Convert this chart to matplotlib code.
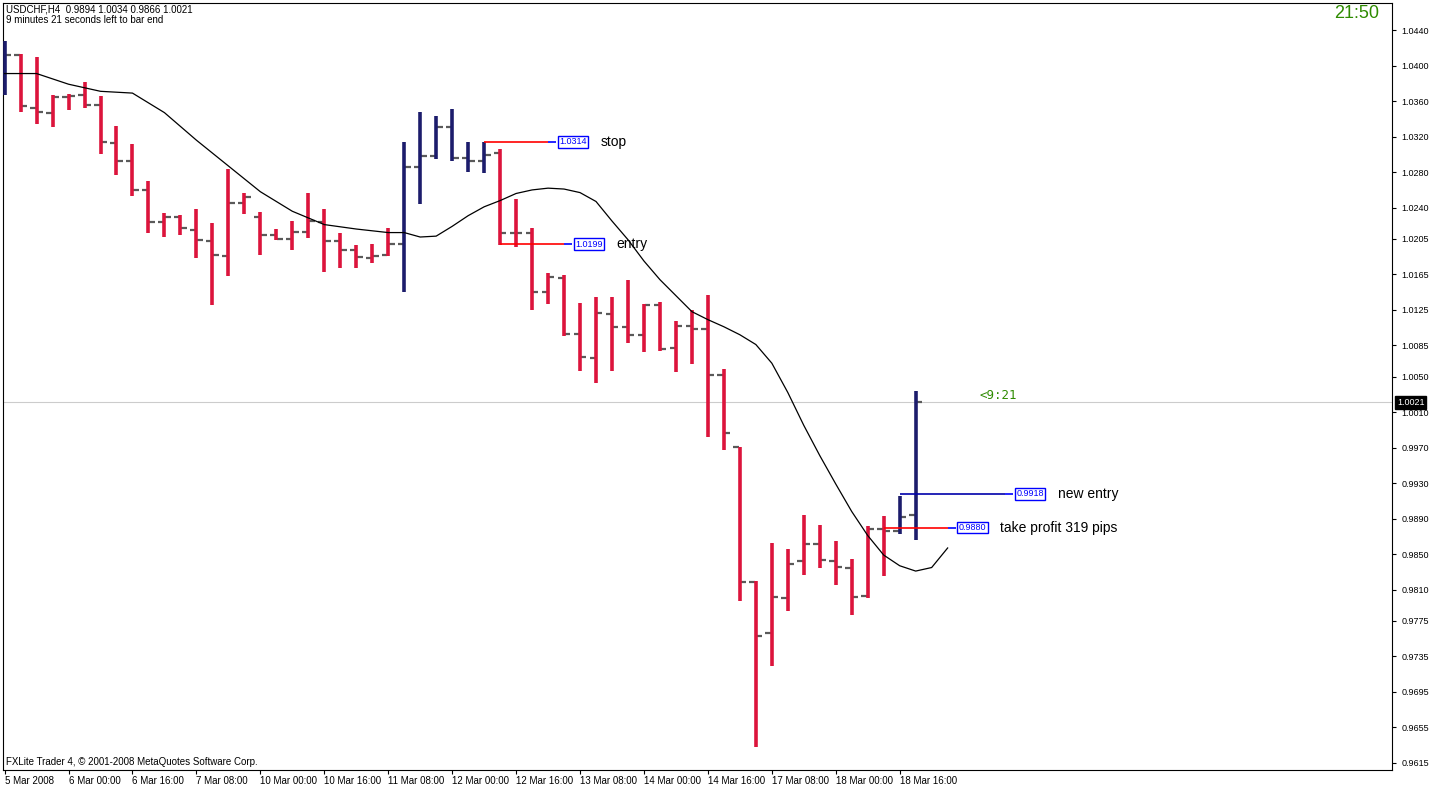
import matplotlib
matplotlib.use('Agg')
import matplotlib.pyplot as plt
import numpy as np

# USDCHF H4 bars (open, high, low, close)
opens = [1.0395, 1.0412, 1.0352, 1.0347, 1.0365, 1.0367, 1.0356, 1.0313, 1.0293, 1.0260,
         1.0224, 1.0230, 1.0215, 1.0203, 1.0186, 1.0245, 1.0230, 1.0209, 1.0205, 1.0213,
         1.0224, 1.0202, 1.0192, 1.0183, 1.0187, 1.0199, 1.0286, 1.0298, 1.0331, 1.0296,
         1.0293, 1.0302, 1.0212, 1.0211, 1.0145, 1.0161, 1.0098, 1.0071, 1.0120, 1.0106,
         1.0097, 1.0131, 1.0082, 1.0107, 1.0104, 1.0052, 0.9971, 0.9819, 0.9761, 0.9801,
         0.9842, 0.9861, 0.9842, 0.9834, 0.9803, 0.9878, 0.9876, 0.9894]
highs = [1.0428, 1.0413, 1.0410, 1.0367, 1.0368, 1.0382, 1.0366, 1.0332, 1.0312, 1.0270,
         1.0234, 1.0232, 1.0239, 1.0223, 1.0284, 1.0257, 1.0235, 1.0216, 1.0225, 1.0256,
         1.0239, 1.0211, 1.0198, 1.0199, 1.0217, 1.0314, 1.0348, 1.0343, 1.0351, 1.0314,
         1.0314, 1.0306, 1.0250, 1.0217, 1.0167, 1.0164, 1.0133, 1.0140, 1.0140, 1.0159,
         1.0132, 1.0134, 1.0113, 1.0125, 1.0142, 1.0059, 0.9971, 0.9820, 0.9863, 0.9856,
         0.9894, 0.9883, 0.9865, 0.9845, 0.9882, 0.9893, 0.9915, 1.0034]
lows = [1.0367, 1.0348, 1.0334, 1.0331, 1.0350, 1.0352, 1.0301, 1.0277, 1.0253, 1.0211,
        1.0207, 1.0209, 1.0183, 1.0130, 1.0163, 1.0233, 1.0187, 1.0204, 1.0192, 1.0206,
        1.0168, 1.0172, 1.0172, 1.0178, 1.0186, 1.0145, 1.0244, 1.0295, 1.0292, 1.0280,
        1.0279, 1.0198, 1.0196, 1.0125, 1.0132, 1.0096, 1.0056, 1.0043, 1.0056, 1.0088,
        1.0078, 1.0079, 1.0055, 1.0064, 0.9982, 0.9967, 0.9797, 0.9633, 0.9724, 0.9786,
        0.9827, 0.9835, 0.9815, 0.9782, 0.9801, 0.9826, 0.9873, 0.9866]
closes = [1.0412, 1.0355, 1.0348, 1.0365, 1.0366, 1.0356, 1.0314, 1.0293, 1.0260, 1.0224,
          1.0230, 1.0217, 1.0204, 1.0187, 1.0245, 1.0252, 1.0209, 1.0205, 1.0213, 1.0225,
          1.0202, 1.0192, 1.0185, 1.0186, 1.0199, 1.0286, 1.0298, 1.0331, 1.0296, 1.0293,
          1.0299, 1.0212, 1.0211, 1.0145, 1.0162, 1.0098, 1.0072, 1.0122, 1.0106, 1.0097,
          1.0131, 1.0081, 1.0107, 1.0104, 1.0052, 0.9986, 0.9819, 0.9758, 0.9802, 0.9839,
          0.9862, 0.9844, 0.9836, 0.9802, 0.9878, 0.9876, 0.9892, 1.0021]
blue_bars = [0, 25, 26, 27, 28, 29, 30, 56, 57]

# moving average (bar index, value)
ma_idx = [0, 2, 4, 6, 8, 10, 12, 14, 16, 18, 20, 22, 24, 25, 26, 27, 28, 29, 30, 31, 32,
          33, 34, 35, 36, 37, 38, 39, 40, 41, 42, 43, 44, 45, 46, 47, 48, 49, 50, 51, 52,
          53, 54, 55, 56, 57, 58, 59]
ma_val = [1.0391, 1.0391, 1.0379, 1.0371, 1.0369, 1.0347, 1.0316, 1.0287, 1.0258, 1.0236,
          1.0221, 1.0216, 1.0212, 1.0212, 1.0207, 1.0208, 1.0219, 1.0231, 1.0241, 1.0248,
          1.0256, 1.0260, 1.0262, 1.0261, 1.0257, 1.0247, 1.0225, 1.0204, 1.0180, 1.0159,
          1.0141, 1.0123, 1.0114, 1.0106, 1.0097, 1.0086, 1.0065, 1.0032, 0.9995, 0.9961,
          0.9929, 0.9898, 0.9871, 0.9849, 0.9837, 0.9831, 0.9835, 0.9857]

price_ticks = [1.0440, 1.0400, 1.0360, 1.0320, 1.0280, 1.0240, 1.0205, 1.0165, 1.0125,
               1.0085, 1.0050, 1.0010, 0.9970, 0.9930, 0.9890, 0.9850, 0.9810, 0.9775,
               0.9735, 0.9695, 0.9655, 0.9615]
time_idx = [0, 4, 8, 12, 16, 20, 24, 28, 32, 36, 40, 44, 48, 52, 56]
time_labels = ['5 Mar 2008', '6 Mar 00:00', '6 Mar 16:00', '7 Mar 08:00', '10 Mar 00:00',
               '10 Mar 16:00', '11 Mar 08:00', '12 Mar 00:00', '12 Mar 16:00', '13 Mar 08:00',
               '14 Mar 00:00', '14 Mar 16:00', '17 Mar 08:00', '18 Mar 00:00', '18 Mar 16:00']

# trade levels: (price, start bar, end bar, label)
levels = [(1.0314, 30, 34, 'stop', 'red'),
          (1.0199, 31, 35, 'entry', 'red'),
          (0.9918, 56, 62.6, 'new entry', '#0000aa'),
          (0.9880, 55, 59, 'take profit 319 pips', 'red')]

RED = '#dc143c'
BLUE = '#1c1c6c'
GRAY = '#5a5a5a'

plt.rcParams['font.family'] = ['Liberation Sans', 'DejaVu Sans']

fig = plt.figure(figsize=(14.34, 7.87), dpi=100)
ax = fig.add_axes([3 / 1434, 17 / 787, 1389 / 1434, 767 / 787])
ax.set_xlim(-0.1, 86.8)
ax.set_ylim(0.96071, 1.04704)

for i in range(len(opens)):
    c = BLUE if i in blue_bars else RED
    ax.vlines(i, lows[i], highs[i], color=c, lw=2.6, zorder=3)
    ax.hlines(opens[i], i - 0.4, i - 0.05, color=GRAY, lw=1.6, zorder=2)
    ax.hlines(closes[i], i + 0.05, i + 0.4, color=GRAY, lw=1.6, zorder=2)

ax.plot(ma_idx, ma_val, color='black', lw=0.9, zorder=4)

# current price line
ax.axhline(closes[-1], color='#cccccc', lw=0.8, zorder=1)

for price, x0, x1, name, col in levels:
    ax.hlines(price, x0, x1, color=col, lw=1.2, zorder=5)
    ax.hlines(price, x1, x1 + 0.5, color='blue', lw=1.2, zorder=5)
    ax.text(x1 + 0.7, price, f'{price:.4f}', fontsize=6.5, color='blue', va='center', ha='left',
            bbox=dict(boxstyle='square,pad=0.15', fc='white', ec='blue', lw=1), zorder=6)
    ax.text(x1 + 3.3, price, name, fontsize=10, color='black', va='center', ha='left', zorder=6)

ax.text(61.0, 1.0021 + 0.0008, '<9:21', fontsize=9, color='#2e8b00', family='DejaVu Sans Mono',
        va='center', ha='left')

ax.set_yticks(price_ticks)
ax.set_yticklabels([f'{p:.4f}' for p in price_ticks], fontsize=6.5)
ax.yaxis.tick_right()
ax.set_xticks(time_idx)
ax.set_xticklabels(time_labels, fontsize=7, ha='left')
ax.tick_params(axis='x', length=3, pad=1)
ax.tick_params(axis='y', length=3, pad=4)
for s in ax.spines.values():
    s.set_linewidth(0.8)

# current price marker on right axis
ax.text(1.0035, 1.0021, f'{closes[-1]:.4f}', transform=ax.get_yaxis_transform(), fontsize=6.5,
        color='white', va='center', ha='left',
        bbox=dict(boxstyle='square,pad=0.2', fc='black', ec='black'), clip_on=False)

fig.text(6 / 1434, 1 - 10 / 787, 'USDCHF,H4  0.9894 1.0034 0.9866 1.0021', fontsize=7, va='center')
fig.text(6 / 1434, 1 - 20 / 787, '9 minutes 21 seconds left to bar end', fontsize=7, va='center')
fig.text(1357 / 1434, 1 - 14 / 787, '21:50', fontsize=13, color='#2e8b00', va='center', ha='center')
fig.text(6 / 1434, 1 - 762 / 787, 'FXLite Trader 4, \u00a9 2001-2008 MetaQuotes Software Corp.',
         fontsize=7, va='center')

fig.savefig('out.png', dpi=100, facecolor='white')
